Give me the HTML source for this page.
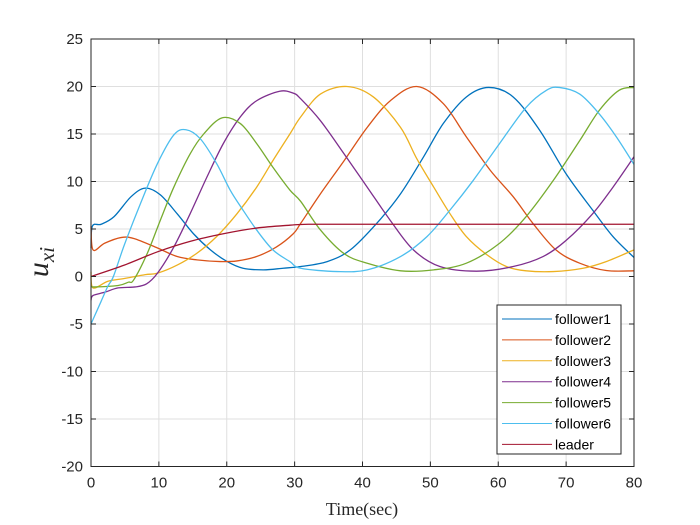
<!DOCTYPE html>
<html><head><meta charset="utf-8"><style>
html,body{margin:0;padding:0;background:#fff;}
svg{display:block;font-family:"Liberation Sans",sans-serif;}
</style></head><body>
<svg id="chart" width="700" height="525" viewBox="0 0 700 525">
<rect width="700" height="525" fill="#fff"/>
<g id="grid"></g>
<g id="series"></g>
<g id="axes"></g>
<text x="362" y="515" text-anchor="middle" font-family="Liberation Serif,serif" font-size="18" fill="#262626">Time(sec)</text>
<text transform="translate(48,262) rotate(-90)" text-anchor="middle" font-family="Liberation Serif,serif" font-style="italic" font-size="30" fill="#262626">u<tspan font-size="21" dy="6">xi</tspan></text>
<g id="legend"></g>
</svg>
<script>
const xTicks=[0,10,20,30,40,50,60,70,80];
const yTicks=[-20,-15,-10,-5,0,5,10,15,20,25];
const names=["follower1","follower2","follower3","follower4","follower5","follower6","leader"];
const colors=["#0072BD","#D95319","#EDB120","#7E2F8E","#77AC30","#4DBEEE","#A2142F"];
const t1=[0,0.2,1.5,3.4,5.9,8,10.2,12.7,15.1,17.6,20,22.4,25.4,28.3,30.9,34.8,38.2,42.1,45.6,49,51.9,55.3,58.6,62.2,66.1,70,73.9,76.9,80];
const v1=[3,5.3,5.5,6.3,8.4,9.3,8.6,6.6,4.5,2.8,1.6,0.87,0.7,0.87,1.05,1.57,2.8,5.6,8.7,12.6,16.1,18.9,19.9,18.9,15.4,10.8,7.0,4.2,2.0];
const t2=[0,0.3,2,4.4,6.3,9.8,12.7,15.6,19,21.5,24.4,27.3,29.8,30.9,33.8,37.3,40.7,44.1,48,51.9,55.3,58.8,62.2,65.1,68.5,72,75.9,80];
const v2=[5.3,2.8,3.5,4.1,4.0,3.0,2.1,1.75,1.57,1.64,2.1,3.1,4.5,5.6,8.7,12.2,15.7,18.5,20,18.2,14.7,11.2,8.4,5.6,2.8,1.4,0.63,0.6];
const t3=[0,0.3,2.5,5,8,9.8,12.7,15.6,18.5,21.5,24.4,26.8,29.3,30.9,33.8,37.7,41.6,45.6,48,50.5,52.9,55.3,58.3,61.2,64.1,68.1,72.5,75.9,80];
const v3=[0.5,-1.2,-0.5,-0.2,0.2,0.35,1.2,2.45,4.2,6.6,9.4,12.2,15,16.8,19.2,20,18.9,15.7,12.4,9.4,6.6,4.2,2.3,1.05,0.6,0.52,0.87,1.57,2.8];
const t4=[0,0.3,2.06,4,6.5,8.2,9.8,12.2,14.6,17.1,19.5,22,24.4,27.8,29.8,30.9,33.8,37.3,40.7,44.1,47.5,51.4,56.8,62.2,66.6,70,73.9,76.9,80];
const v4=[-2.5,-2.0,-1.65,-1.2,-1.1,-0.77,0.35,3.1,6.6,10.5,14,16.8,18.5,19.5,19.3,18.7,16.4,12.9,9.4,5.9,2.8,1.05,0.56,1.05,2.1,3.8,6.6,9.4,12.6];
const t5=[0,0.5,4,5.5,6.3,8.3,10.2,12.2,14.6,16.6,19.3,22,24.4,26.8,29.3,30.9,33.8,37.3,40.7,45.6,50.5,55.3,60.2,64.1,68.1,72,74.9,77.8,80];
const v5=[-1.0,-1.1,-0.95,-0.6,-0.35,2.45,5.9,9.4,12.9,15,16.7,16.1,14,11.5,9.1,7.9,4.9,2.4,1.4,0.6,0.7,1.4,3.5,6.3,10.1,14.3,17.5,19.6,19.9];
const t6=[0,0.5,1.5,2.5,3.3,4.9,7.3,9.8,12.2,14,16.1,18.5,20.5,22.2,24.4,26.8,29.3,30.9,36.3,40.7,45.6,49.5,52.9,56.3,60.2,64.1,67.1,69,72,74.9,77.4,80];
const v6=[-5,-4.2,-2.6,-1,0,3.3,7.7,11.9,14.9,15.45,14.5,11.9,9.1,7.2,4.9,2.8,1.57,0.87,0.52,0.7,2.1,4.2,7.0,10.1,14,17.8,19.6,19.9,19.2,17.1,14.7,11.8];
const tL=[0,4.9,9.8,14.6,19.5,24.4,29.3,32,40,50,60,70,80];
const vL=[0,1.2,2.6,3.7,4.5,5.1,5.4,5.5,5.5,5.5,5.5,5.5,5.5];
const seriesT=[t1,t2,t3,t4,t5,t6,tL];
const seriesV=[v1,v2,v3,v4,v5,v6,vL];

const X0=91,X1=634,Y0=466.5,Y1=39;
const xMin=0,xMax=80,yMin=-20,yMax=25;
function sx(t){return X0+(t-xMin)/(xMax-xMin)*(X1-X0);}
function sy(v){return Y0-(v-yMin)/(yMax-yMin)*(Y0-Y1);}
const NS="http://www.w3.org/2000/svg";
function mk(tag,parent,attrs){const e=document.createElementNS(NS,tag);for(const k in attrs)e.setAttribute(k,attrs[k]);parent.appendChild(e);return e;}
const grid=document.getElementById('grid'),axes=document.getElementById('axes'),sg=document.getElementById('series'),lg=document.getElementById('legend');
xTicks.forEach(t=>{
  const g=mk('line',grid,{x1:sx(t),x2:sx(t),y1:Y1,y2:Y0,stroke:'#dfdfdf','stroke-width':1});
  
  
  const tk=mk('path',axes,{d:`M${sx(t)},${Y0}v-5M${sx(t)},${Y1}v5`,stroke:'#262626','stroke-width':1});
  
  
  const lb=mk('text',axes,{x:sx(t),y:Y0+21,'text-anchor':'middle','font-size':15,fill:'#262626'});
  lb.textContent=t;
  
  
});
yTicks.forEach(v=>{
  const g=mk('line',grid,{x1:X0,x2:X1,y1:sy(v),y2:sy(v),stroke:'#dfdfdf','stroke-width':1});
  
  
  const tk=mk('path',axes,{d:`M${X0},${sy(v)}h5M${X1},${sy(v)}h-5`,stroke:'#262626','stroke-width':1});
  
  
  const lb=mk('text',axes,{x:X0-8,y:sy(v)+5,'text-anchor':'end','font-size':15,fill:'#262626'});
  lb.textContent=v;
  
  
});
const box=mk('rect',axes,{x:X0,y:Y1,width:X1-X0,height:Y0-Y1,fill:'none',stroke:'#262626','stroke-width':1});


function pathFor(ts,vs){
  const p=ts.map((t,i)=>[sx(t),sy(vs[i])]);
  let d=`M${p[0][0]},${p[0][1]}`;
  for(let i=0;i<p.length-1;i++){
    const a=p[Math.max(0,i-1)],b=p[i],c=p[i+1],e=p[Math.min(p.length-1,i+2)];
    const c1=[b[0]+(c[0]-a[0])/6,b[1]+(c[1]-a[1])/6],c2=[c[0]-(e[0]-b[0])/6,c[1]-(e[1]-b[1])/6];
    d+=`C${c1[0]},${c1[1]} ${c2[0]},${c2[1]} ${c[0]},${c[1]}`;
  }
  return d;
}
seriesT.forEach((ts,i)=>{
  const p=mk('path',sg,{d:pathFor(ts,seriesV[i]),fill:'none',stroke:colors[i],'stroke-width':1.3});
  
  
});
const lr=mk('rect',lg,{x:497,y:305,width:124,height:149,fill:'#fff',stroke:'#262626','stroke-width':1});


names.forEach((n,i)=>{
  const y=319+i*20.9;
  const ln=mk('line',lg,{x1:502,x2:552,y1:y,y2:y,stroke:colors[i],'stroke-width':1});
  
  
  const tx=mk('text',lg,{x:555,y:y+5,'font-size':14,fill:'#000'});
  tx.textContent=n;
  
  
});
</script>
</body></html>
